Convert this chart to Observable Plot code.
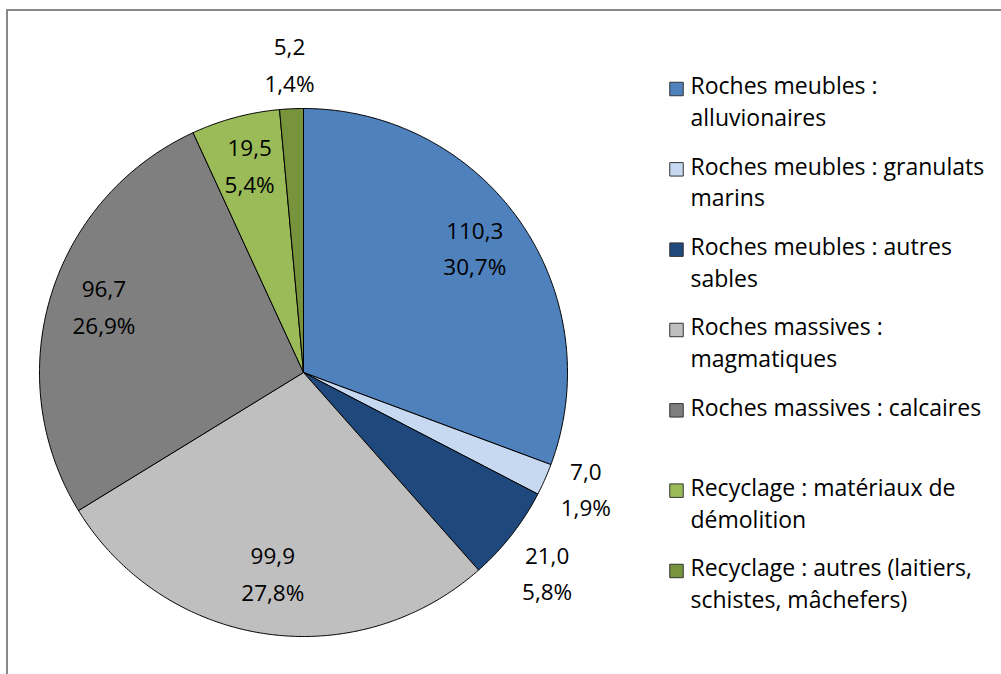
<!DOCTYPE html>
<html>
<head>
<meta charset="utf-8">
<script src="https://cdn.jsdelivr.net/npm/d3@7"></script>
<script src="https://cdn.jsdelivr.net/npm/@observablehq/plot@0.6"></script>
<style>
  html, body { margin: 0; padding: 0; background: #fff; }
  #wrap { position: relative; width: 1001px; height: 674px; overflow: hidden; }
  #border { position: absolute; left: 6px; top: 9px; width: 1100px; height: 800px;
            border-top: 2px solid #888; border-left: 2px solid #888; }
  #chart { position: absolute; left: 0; top: 0; }
</style>
</head>
<body>
<div id="wrap"><div id="border"></div><div id="chart"></div></div>
<script>
// ---- data ----
const categories = [
  "Roches meubles : alluvionaires",
  "Roches meubles : granulats marins",
  "Roches meubles : autres sables",
  "Roches massives : magmatiques",
  "Roches massives : calcaires",
  "Recyclage : matériaux de démolition",
  "Recyclage : autres (laitiers, schistes, mâchefers)"
];
const legendLabels = [
  "Roches meubles :\nalluvionaires",
  "Roches meubles : granulats\nmarins",
  "Roches meubles : autres\nsables",
  "Roches massives :\nmagmatiques",
  "Roches massives : calcaires",
  "Recyclage : matériaux de\ndémolition",
  "Recyclage : autres (laitiers,\nschistes, mâchefers)"
];
const values = [110.3, 7.0, 21.0, 99.9, 96.7, 19.5, 5.2];
const colors = ["#4F81BD", "#C6D9F1", "#1F497D", "#BFBFBF", "#7F7F7F", "#9BBB59", "#77933C"];
const outsideLabels = new Set([
  "Roches meubles : granulats marins",
  "Roches meubles : autres sables",
  "Recyclage : autres (laitiers, schistes, mâchefers)"
]);

// ---- layout ----
const W = 1001, H = 674;
const cx = 303, cy = 372, R = 264;
const fr = d3.formatLocale({decimal: ",", thousands: " ", grouping: [3], currency: ["", " €"]});
const fmtV = fr.format(".1f");
const fmtP = fr.format(".1%");

const total = d3.sum(values);
const pie = d3.pie().sort(null).value(d => d.value);
const arcs = pie(categories.map((c, i) => ({name: c, value: values[i]})));

// polygon points for each slice in radius units (clockwise from top)
const pts = [];
for (const a of arcs) {
  const n = Math.max(2, Math.ceil((a.endAngle - a.startAngle) / (Math.PI / 360)));
  pts.push({name: a.data.name, x: 0, y: 0});
  for (let k = 0; k <= n; k++) {
    const t = a.startAngle + (a.endAngle - a.startAngle) * k / n;
    pts.push({name: a.data.name, x: Math.sin(t), y: Math.cos(t)});
  }
  pts.push({name: a.data.name, x: 0, y: 0});
}

const labels = arcs.map(a => {
  const m = (a.startAngle + a.endAngle) / 2;
  const out = outsideLabels.has(a.data.name);
  const r = out ? 1.17 : 0.79;
  return {
    name: a.data.name,
    out,
    x: r * Math.sin(m),
    y: r * Math.cos(m),
    text: fmtV(a.data.value) + "\n" + fmtP(a.data.value / total)
  };
});

// simple overlap avoidance for outside labels on the same side
const minGap = 84 / R;
for (const side of [1, -1]) {
  const group = labels.filter(d => d.out && Math.sign(d.x) === side).sort((a, b) => b.y - a.y);
  for (let i = 1; i < group.length; i++) {
    const gap = group[i - 1].y - group[i].y;
    if (gap < minGap) {
      const push = (minGap - gap) / 2;
      group[i - 1].y += push;
      group[i].y -= push;
    }
  }
}

const legX = (676 - cx) / R, legTX = (690 - cx) / R;
const legend = categories.map((c, i) => ({
  name: c,
  label: legendLabels[i],
  y: (cy - (88.5 + 80.33 * i)) / R
}));

const chart = Plot.plot({
  width: W, height: H,
  margin: 0,
  x: {domain: [-cx / R, (W - cx) / R], axis: null},
  y: {domain: [-(H - cy) / R, cy / R], axis: null},
  color: {domain: categories, range: colors},
  style: {fontFamily: "'Open Sans', sans-serif", background: "transparent"},
  marks: [
    Plot.line(pts, {x: "x", y: "y", z: "name", fill: "name", stroke: "#000", strokeWidth: 1, strokeLinejoin: "miter"}),
    Plot.text(labels.filter(d => !d.out), {x: "x", y: "y", text: "text", fontSize: 22.5, lineHeight: 1.62, fill: "#000", dy: -8}),
    Plot.text(labels.filter(d => d.out), {x: "x", y: "y", text: "text", fontSize: 22.5, lineHeight: 1.62, fill: "#000", dy: -2}),
    Plot.dot(legend, {x: legX, y: "y", symbol: "square", r: 7.6, fill: "name", stroke: "#333", strokeWidth: 1}),
    Plot.text(legend, {x: legTX, y: "y", text: "label", textAnchor: "start", lineAnchor: "top", fontSize: 23, lineHeight: 1.39, fill: "#000", dy: -17.5})
  ]
});
document.getElementById("chart").appendChild(chart);
</script>
</body>
</html>
